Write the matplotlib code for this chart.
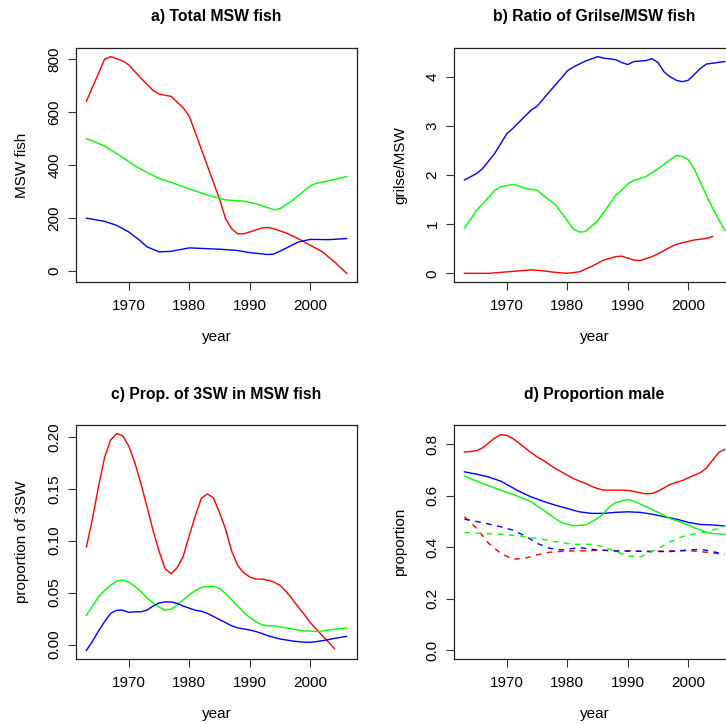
import matplotlib
matplotlib.use("Agg")
import matplotlib.pyplot as plt

plt.rcParams['font.family'] = ['Liberation Sans', 'DejaVu Sans']

# ---------------- data ----------------
# a) Total MSW fish
a_red_yr = [1963, 1966, 1967, 1969, 1970, 1972, 1974, 1975, 1977, 1979, 1980, 1981, 1983, 1985, 1986,
            1987, 1988, 1989, 1990, 1992, 1993, 1994, 1996, 1998, 2000, 2002, 2004, 2006]
a_red = [640, 798, 808, 792, 777, 727, 681, 667, 658, 615, 583, 521, 396, 271, 197,
         159, 140, 140, 147, 162, 164, 159, 143, 122, 97, 72, 34, -9]
a_green_yr = [1963, 1966, 1969, 1971, 1973, 1975, 1977, 1980, 1983, 1986, 1989, 1991, 1994, 1995,
              1997, 1998, 2000, 2001, 2003, 2006]
a_green = [499, 471, 428, 396, 371, 349, 334, 309, 286, 268, 263, 253, 231, 235,
           265, 284, 321, 331, 340, 356]
a_blue_yr = [1963, 1966, 1968, 1970, 1972, 1973, 1975, 1977, 1980, 1982, 1985, 1988, 1990, 1993,
             1994, 1996, 1998, 2000, 2003, 2006]
a_blue = [199, 187, 172, 147, 112, 91, 72, 74, 87, 85, 82, 77, 69, 62,
          64, 86, 109, 119, 118, 122]

# b) Ratio of Grilse/MSW fish
b_blue_yr = [1963, 1965, 1966, 1968, 1970, 1971, 1974, 1975, 1977, 1979, 1980, 1981, 1983, 1985,
             1986, 1988, 1989, 1990, 1991, 1993, 1994, 1995, 1996, 1997, 1998, 1999, 2000, 2001,
             2002, 2003, 2006]
b_blue = [1.90, 2.03, 2.13, 2.44, 2.84, 2.95, 3.32, 3.40, 3.69, 3.97, 4.12, 4.20, 4.32, 4.41,
          4.38, 4.35, 4.29, 4.25, 4.31, 4.33, 4.37, 4.29, 4.10, 4.00, 3.93, 3.90, 3.93, 4.05,
          4.17, 4.26, 4.31]
b_green_yr = [1963, 1965, 1967, 1968, 1969, 1971, 1972, 1973, 1975, 1976, 1978, 1980, 1981, 1982,
              1983, 1985, 1987, 1988, 1989, 1990, 1991, 1993, 1995, 1997, 1998, 1999, 2000, 2001,
              2002, 2003, 2004, 2005, 2006]
b_green = [0.92, 1.28, 1.55, 1.69, 1.76, 1.81, 1.78, 1.73, 1.69, 1.59, 1.40, 1.07, 0.90, 0.84,
           0.85, 1.07, 1.41, 1.59, 1.69, 1.82, 1.89, 1.97, 2.13, 2.31, 2.40, 2.38, 2.31, 2.12,
           1.85, 1.58, 1.33, 1.10, 0.88]
b_red_yr = [1963, 1967, 1970, 1974, 1976, 1978, 1980, 1982, 1984, 1986, 1988, 1989, 1990, 1991,
            1992, 1994, 1995, 1997, 1998, 2000, 2001, 2003, 2004]
b_red = [0.00, 0.00, 0.03, 0.07, 0.05, 0.02, 0.00, 0.03, 0.14, 0.27, 0.34, 0.35, 0.31, 0.27,
         0.26, 0.34, 0.40, 0.53, 0.59, 0.65, 0.68, 0.71, 0.75]

# c) Prop. of 3SW in MSW fish
c_red_yr = list(range(1963, 2005))
c_red = [0.094, 0.121, 0.152, 0.180, 0.197, 0.203, 0.201, 0.191, 0.175, 0.155, 0.133, 0.110,
         0.090, 0.073, 0.068, 0.074, 0.085, 0.105, 0.124, 0.141, 0.145, 0.141, 0.127, 0.111,
         0.090, 0.076, 0.069, 0.065, 0.063, 0.063, 0.062, 0.060, 0.057, 0.051, 0.044, 0.036,
         0.029, 0.021, 0.0148, 0.0085, 0.0023, -0.004]
c_green_yr = list(range(1963, 2007))
c_green = [0.028, 0.037, 0.046, 0.052, 0.057, 0.061, 0.062, 0.060, 0.056, 0.051, 0.045, 0.040,
           0.036, 0.033, 0.034, 0.038, 0.043, 0.048, 0.052, 0.055, 0.056, 0.056, 0.054, 0.049,
           0.043, 0.037, 0.031, 0.026, 0.022, 0.019, 0.018, 0.018, 0.017, 0.016, 0.015, 0.014,
           0.013, 0.013, 0.0125, 0.013, 0.014, 0.0147, 0.0153, 0.016]
c_blue_yr = list(range(1963, 2007))
c_blue = [-0.0056, 0.003, 0.013, 0.022, 0.030, 0.033, 0.033, 0.031, 0.0315, 0.0315, 0.033, 0.037,
          0.040, 0.041, 0.041, 0.0395, 0.037, 0.035, 0.033, 0.032, 0.030, 0.027, 0.024, 0.021,
          0.018, 0.016, 0.015, 0.014, 0.0125, 0.0106, 0.0084, 0.0069, 0.0053, 0.0044, 0.0034,
          0.0028, 0.0022, 0.0022, 0.0028, 0.0037, 0.0047, 0.0059, 0.0069, 0.0078]

# d) Proportion male (solid and dashed series)
d_red_yr = list(range(1963, 2007))
d_red = [0.769, 0.771, 0.774, 0.785, 0.804, 0.823, 0.836, 0.833, 0.821, 0.804, 0.785, 0.767,
         0.750, 0.737, 0.721, 0.705, 0.692, 0.679, 0.666, 0.656, 0.647, 0.636, 0.627, 0.621,
         0.621, 0.621, 0.621, 0.620, 0.616, 0.611, 0.607, 0.608, 0.617, 0.630, 0.643, 0.651,
         0.658, 0.669, 0.679, 0.689, 0.707, 0.737, 0.767, 0.779]
d_blue_yr = [1963, 1965, 1967, 1969, 1970, 1972, 1974, 1976, 1978, 1980, 1982, 1984, 1986, 1988,
             1990, 1992, 1994, 1996, 1998, 2000, 2002, 2004, 2006]
d_blue = [0.692, 0.683, 0.672, 0.656, 0.643, 0.617, 0.595, 0.578, 0.563, 0.550, 0.537, 0.531,
          0.531, 0.535, 0.537, 0.535, 0.528, 0.518, 0.509, 0.496, 0.488, 0.486, 0.482]
d_green_yr = [1963, 1965, 1967, 1969, 1971, 1973, 1974, 1976, 1978, 1979, 1981, 1983, 1985, 1986,
              1987, 1988, 1990, 1991, 1993, 1995, 1997, 1999, 2001, 2003, 2004, 2006]
d_green = [0.675, 0.656, 0.638, 0.621, 0.604, 0.586, 0.576, 0.544, 0.511, 0.495, 0.483, 0.486,
           0.511, 0.531, 0.557, 0.573, 0.585, 0.578, 0.557, 0.535, 0.511, 0.495, 0.475, 0.457,
           0.453, 0.450]
d_red2_yr = [1963, 1965, 1967, 1969, 1971, 1973, 1975, 1977, 1980, 1983, 1986, 1990, 1993, 1996,
             1999, 2001, 2003, 2006]
d_red2 = [0.518, 0.473, 0.415, 0.376, 0.353, 0.357, 0.370, 0.380, 0.385, 0.386, 0.388, 0.385,
          0.383, 0.385, 0.386, 0.385, 0.380, 0.372]
d_blue2_yr = [1963, 1966, 1969, 1971, 1973, 1975, 1977, 1979, 1982, 1985, 1988, 1991, 1994, 1997,
              2000, 2002, 2004, 2006]
d_blue2 = [0.509, 0.495, 0.479, 0.466, 0.444, 0.415, 0.396, 0.389, 0.398, 0.389, 0.385, 0.385,
           0.383, 0.383, 0.389, 0.392, 0.383, 0.372]
d_green2_yr = [1963, 1966, 1969, 1972, 1975, 1978, 1981, 1984, 1986, 1988, 1990, 1992, 1993, 1995,
               1997, 1999, 2001, 2003, 2005, 2006]
d_green2 = [0.457, 0.453, 0.450, 0.444, 0.434, 0.421, 0.411, 0.411, 0.402, 0.383, 0.366, 0.362,
            0.372, 0.395, 0.421, 0.441, 0.451, 0.460, 0.473, 0.482]

titles = ["a) Total MSW fish", "b) Ratio of Grilse/MSW fish",
          "c) Prop. of 3SW in MSW fish", "d) Proportion male"]
ylabels = ["MSW fish", "grilse/MSW", "proportion of 3SW", "proportion"]
xlabel = "year"
xticks = [1970, 1980, 1990, 2000]
yticks_a = [0, 200, 400, 600, 800]
yticks_b = [0, 1, 2, 3, 4]
yticks_c = [0.00, 0.05, 0.10, 0.15, 0.20]
yticks_d = [0.0, 0.2, 0.4, 0.6, 0.8]
ytick_fmt = ["{:.0f}", "{:.0f}", "{:.2f}", "{:.1f}"]

RED, GREEN, BLUE = "#FF0000", "#00FF00", "#0000FF"

# ---------------- layout ----------------
W, H = 726, 724
fig = plt.figure(figsize=(W / 100, H / 100), dpi=100)

def px_axes(l, t, r, b):
    return fig.add_axes([l / W, 1 - b / H, (r - l) / W, (b - t) / H])

ax_a = px_axes(76, 48, 357, 282)
ax_b = px_axes(454, 48, 735, 282)
ax_c = px_axes(76, 425, 357, 659)
ax_d = px_axes(454, 425, 735, 659)
axes = [ax_a, ax_b, ax_c, ax_d]

lw = 1.0
ax_a.plot(a_red_yr, a_red, color=RED, lw=lw)
ax_a.plot(a_green_yr, a_green, color=GREEN, lw=lw)
ax_a.plot(a_blue_yr, a_blue, color=BLUE, lw=lw)

ax_b.plot(b_blue_yr, b_blue, color=BLUE, lw=lw)
ax_b.plot(b_green_yr, b_green, color=GREEN, lw=lw)
ax_b.plot(b_red_yr, b_red, color=RED, lw=lw)

ax_c.plot(c_red_yr, c_red, color=RED, lw=lw)
ax_c.plot(c_green_yr, c_green, color=GREEN, lw=lw)
ax_c.plot(c_blue_yr, c_blue, color=BLUE, lw=lw)

ax_d.plot(d_red_yr, d_red, color=RED, lw=lw)
ax_d.plot(d_blue_yr, d_blue, color=BLUE, lw=lw)
ax_d.plot(d_green_yr, d_green, color=GREEN, lw=lw)
ax_d.plot(d_red2_yr, d_red2, color=RED, lw=lw, dashes=(4, 4))
ax_d.plot(d_blue2_yr, d_blue2, color=BLUE, lw=lw, dashes=(4, 4))
ax_d.plot(d_green2_yr, d_green2, color=GREEN, lw=lw, dashes=(4, 4))

ax_a.set_xlim(1961.28, 2007.72)
ax_b.set_xlim(1961.28, 2007.72)
ax_c.set_xlim(1961.28, 2007.72)
ax_d.set_xlim(1961.28, 2007.72)
ax_a.margins(y=0.04)
ax_b.margins(y=0.04)
ax_c.margins(y=0.04)
ax_d.set_ylim(-0.0336, 0.8736)

ytick_sets = [yticks_a, yticks_b, yticks_c, yticks_d]
fs = 11
for i, ax in enumerate(axes):
    ax.set_xticks(xticks)
    ax.set_xticklabels([str(x) for x in xticks], fontsize=fs)
    ax.set_yticks(ytick_sets[i])
    ax.set_yticklabels([ytick_fmt[i].format(v) for v in ytick_sets[i]], fontsize=fs,
                       rotation=90, va='center')
    ax.tick_params(axis='both', direction='out', length=5.5, width=0.8, color='#333333')
    ax.tick_params(axis='x', pad=6.5)
    ax.tick_params(axis='y', pad=5)
    for s in ax.spines.values():
        s.set_color('#222222')
        s.set_linewidth(0.9)
    ax.text(0.5, 1 + 31 / 234, titles[i], transform=ax.transAxes, ha='center', va='center',
            fontsize=fs + 0.3, fontweight='bold')
    ax.text(0.5, -55 / 234, xlabel, transform=ax.transAxes, ha='center', va='center', fontsize=fs)
    ax.text(-54 / 281, 0.5, ylabels[i], transform=ax.transAxes, ha='center', va='center',
            rotation=90, fontsize=fs)

fig.savefig("out.png", dpi=100)
